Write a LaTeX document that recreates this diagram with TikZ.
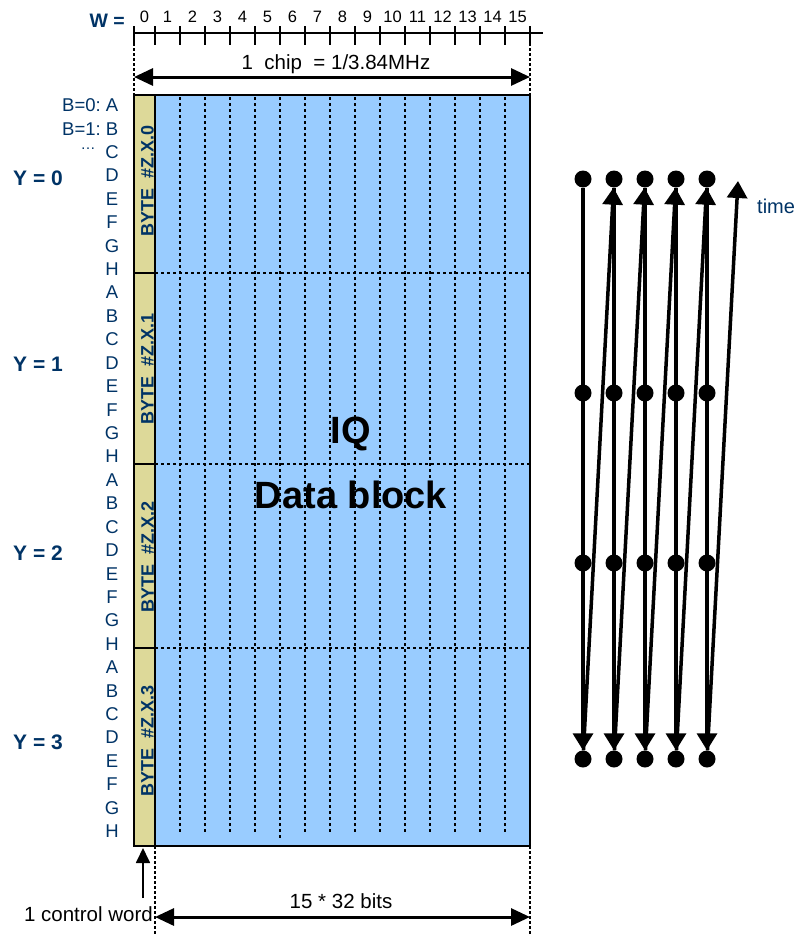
\documentclass[tikz,border=0pt]{standalone}
\usepackage{fontspec}
\setmainfont{Liberation Sans}
\usetikzlibrary{arrows.meta}
\definecolor{dblue}{HTML}{003366}
\definecolor{iqblue}{HTML}{99CCFF}
\definecolor{khaki}{HTML}{DDD999}
\begin{document}
\begin{tikzpicture}[x=1pt,y=-1pt,
 lbl/.style={font=\fontsize{18.5}{22}\selectfont, text=dblue, inner sep=0pt},
 big/.style={font=\fontsize{20.5}{24}\selectfont, text=black, inner sep=0pt},
 ylbl/.style={font=\fontsize{21}{24}\selectfont\bfseries, text=dblue, inner sep=0pt},
 bytelbl/.style={font=\fontsize{18}{20}\selectfont\bfseries, text=dblue, inner sep=0pt, rotate=90},
 num/.style={font=\fontsize{16.5}{18}\selectfont, inner sep=0pt},
 iq/.style={font=\fontsize{38}{40}\selectfont\bfseries, inner sep=0pt},
 gridline/.style={line width=1.8pt, dash pattern=on 3pt off 3pt},
 guide/.style={line width=1.5pt, dash pattern=on 3pt off 2pt},
 dim/.style={line width=3pt, {Triangle[length=19pt,width=17pt]}-{Triangle[length=19pt,width=17pt]}},
 dot/.style={circle, fill=black, minimum size=17pt, inner sep=0pt},
 flow/.style={line width=3.5pt, -{Triangle[length=17pt,width=20pt]}},
 thinarrow/.style={line width=1.8pt, -{Triangle[length=15pt,width=14pt]}},
 frame/.style={line width=1.8pt},
]
\useasboundingbox (0,0) rectangle (798,935);
% fills
\fill[khaki] (134,95) rectangle (155,846);
\fill[iqblue] (155,95) rectangle (530,846);
% vertical grid lines
\foreach \k in {2,...,15}{
  \pgfmathsetmacro\xx{155+25*(\k-1)}
  \ifnum\k=6
    \draw[gridline] (\xx,97) -- (\xx,838);
  \else
    \draw[gridline] (\xx,97) -- (\xx,832);
  \fi
}
% row separators
\foreach \yy in {273,464,648}{
  \draw[gridline] (155,\yy) -- (530,\yy);
  \draw[frame] (134,\yy) -- (155,\yy);
}
\draw[frame] (134,95) rectangle (530,846);
\draw[frame] (155,95) -- (155,846);
% ruler
\draw[line width=1.5pt] (134,33) -- (543,33);
\draw[line width=1.5pt] (134,26) -- (134,45);
\foreach \k in {1,...,16}{
  \pgfmathsetmacro\xx{155+25*(\k-1)}
  \draw[line width=1.5pt] (\xx,26) -- (\xx,45);
}
\node[num, anchor=base] (w0) at (144.5,22) {0};
\foreach \k in {1,...,15}{
  \pgfmathsetmacro\xx{142.5+25*\k}
  \node[num, anchor=base] (w\k) at (\xx,22) {\k};
}
\node[ylbl, font=\fontsize{19.5}{22}\selectfont\bfseries, anchor=base east] (wlab) at (125,27) {W =};
% guides
\draw[guide] (134,33) -- (134,95);
\draw[guide] (530,33) -- (530,95);
\draw[guide] (155,846) -- (155,935);
\draw[guide] (530,846) -- (530,935);
% chip dimension
\coordinate (cl) at (134,77);
\coordinate (cr) at (530,77);
\draw[dim] (cl) -- (cr);
\node[big, anchor=base] (chip) at (336,69) {1\ \ chip\ \ = 1/3.84MHz};
% bits dimension
\coordinate (bl) at (155,917);
\coordinate (br) at (530,917);
\draw[dim] (bl) -- (br);
\node[big, anchor=base] (bits) at (341,908) {15 * 32 bits};
% control word
\node[big, anchor=base east] (cw) at (153,921) {1 control word};
\coordinate (cwt) at (143,898);
\coordinate (cwh) at (143,848);
\draw[thinarrow] (cwt) -- (cwh);
% letters
\def\lettr#1{\ifcase#1 A\or B\or C\or D\or E\or F\or G\or H\fi}
\foreach \i in {0,...,31}{
  \pgfmathtruncatemacro\m{mod(\i,8)}
  \pgfmathsetmacro\yy{111.6+23.42*\i}
  \node[lbl, anchor=base] (L\i) at (112,\yy) {\lettr{\m}};
}
\node[lbl, anchor=base east] (b0) at (101,111.6) {B=0:};
\node[lbl, anchor=base east] (b1) at (101,135) {B=1:};
\node[lbl, font=\fontsize{15}{16}\selectfont, anchor=base] (bdots) at (88,149) {…};
% Y labels
\node[ylbl, anchor=base] (y0) at (38,185) {Y = 0};
\node[ylbl, anchor=base] (y1) at (38,371) {Y = 1};
\node[ylbl, anchor=base] (y2) at (38,560) {Y = 2};
\node[ylbl, anchor=base] (y3) at (38,749) {Y = 3};
% byte labels
\node[bytelbl] (by0) at (147.5,181) {BYTE\ \ \#Z.X.0};
\node[bytelbl] (by1) at (147.5,369) {BYTE\ \ \#Z.X.1};
\node[bytelbl] (by2) at (147.5,557) {BYTE\ \ \#Z.X.2};
\node[bytelbl] (by3) at (147.5,741) {BYTE\ \ \#Z.X.3};
% IQ text
\node[iq, anchor=base] (iqt) at (351,443) {IQ};
\node[iq, anchor=base] (dbt) at (351,508) {Data block};
% time diagram
\foreach \c/\xx in {1/583,2/614,3/645,4/676,5/707}{
  \node[dot] (t\c) at (\xx,179) {};
  \node[dot] (m\c) at (\xx,393) {};
  \node[dot] (n\c) at (\xx,563) {};
  \node[dot] (e\c) at (\xx,759) {};
}
\foreach \c in {1,...,5}{
  \draw[flow] (t\c) -- (e\c);
}
\draw[flow] (e1) -- (t2);
\draw[flow] (e2) -- (t3);
\draw[flow] (e3) -- (t4);
\draw[flow] (e4) -- (t5);
\coordinate (tend) at (738,181);
\draw[flow] (e5) -- (tend);
\node[lbl, font=\fontsize{20}{22}\selectfont, anchor=base west] (time) at (757,213) {time};
\end{tikzpicture}
\end{document}
